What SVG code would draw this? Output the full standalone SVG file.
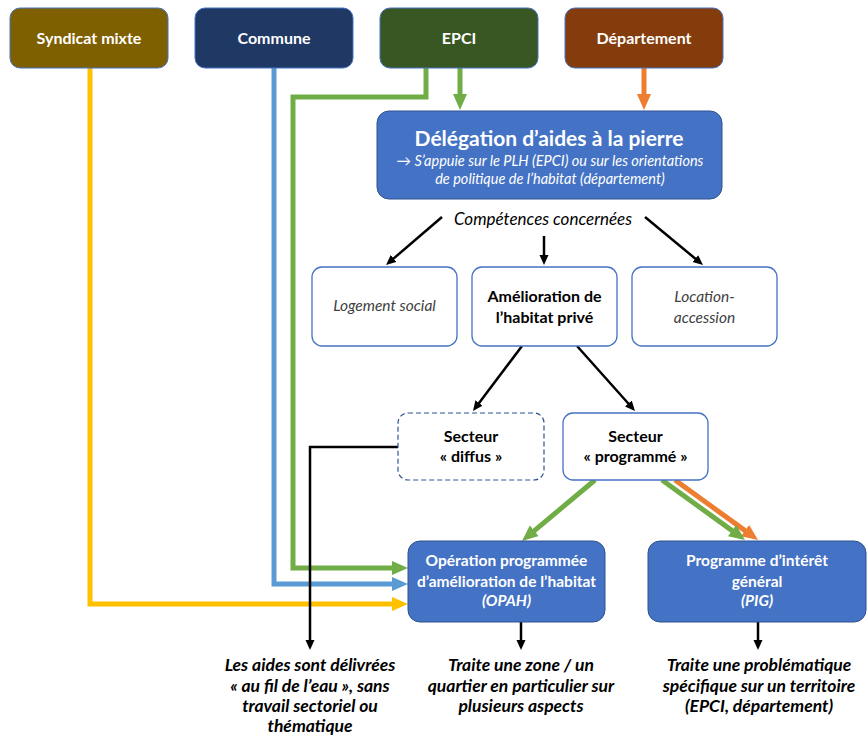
<svg xmlns="http://www.w3.org/2000/svg" width="868" height="737" viewBox="0 0 868 737">
<style>
text{font-family:Lato,"Open Sans","Liberation Sans",sans-serif;text-anchor:middle}
.top{fill:#fff;font-weight:bold;font-size:16px}
.topbox{stroke:#4472C4;stroke-width:1}
.blue{fill:#4472C4;stroke:#2F528F;stroke-width:1}
.wbox{fill:#fff;stroke:#4472C4;stroke-width:1.3}
.wt{fill:#fff;font-weight:bold;font-size:15.5px}
.it{font-style:italic;fill:#404040;font-size:15.5px}
.bd{font-weight:bold;fill:#000;font-size:16px}
.bi{font-weight:bold;font-style:italic;fill:#000;font-size:17.5px}
.k{stroke:#000;stroke-width:2.5;fill:none}
.c{stroke-width:5;fill:none}
</style>
<defs>
<marker id="ak" markerUnits="userSpaceOnUse" markerWidth="10" markerHeight="10" refX="4" refY="4.5" orient="auto"><path d="M0,0L10,4.5L0,9z" fill="#000"/></marker>
<marker id="ag" markerUnits="userSpaceOnUse" markerWidth="16" markerHeight="14" refX="6" refY="7" orient="auto"><path d="M0,0L16,7L0,14z" fill="#70AD47"/></marker>
<marker id="ao" markerUnits="userSpaceOnUse" markerWidth="16" markerHeight="14" refX="6" refY="7" orient="auto"><path d="M0,0L16,7L0,14z" fill="#ED7D31"/></marker>
<marker id="ab" markerUnits="userSpaceOnUse" markerWidth="16" markerHeight="14" refX="6" refY="7" orient="auto"><path d="M0,0L16,7L0,14z" fill="#5B9BD5"/></marker>
<marker id="ay" markerUnits="userSpaceOnUse" markerWidth="16" markerHeight="14" refX="6" refY="7" orient="auto"><path d="M0,0L16,7L0,14z" fill="#FFC000"/></marker>
</defs>

<g id="connectors">
<path class="c" d="M90,68V604H398" stroke="#FFC000" marker-end="url(#ay)"/>
<path class="c" d="M274,68V584H398" stroke="#5B9BD5" marker-end="url(#ab)"/>
<path class="c" d="M426,68V97H293V568H398" stroke="#70AD47" marker-end="url(#ag)"/>
<path class="c" d="M460,68V100" stroke="#70AD47" marker-end="url(#ag)"/>
<path class="c" d="M644,68V100" stroke="#ED7D31" marker-end="url(#ao)"/>
<path class="k" d="M442,217L390.6,261.1" marker-end="url(#ak)"/>
<path class="k" d="M544,236V259" marker-end="url(#ak)"/>
<path class="k" d="M645,217L698.4,261.2" marker-end="url(#ak)"/>
<path class="k" d="M522,346L476.6,406.2" marker-end="url(#ak)"/>
<path class="k" d="M577,346L631,406.5" marker-end="url(#ak)"/>
<path class="k" d="M398,447H310V644" marker-end="url(#ak)"/>
<path class="k" d="M521,622V644" marker-end="url(#ak)"/>
<path class="k" d="M758,622V644" marker-end="url(#ak)"/>
<path class="c" d="M595,480L529.7,534.6" stroke="#70AD47" marker-end="url(#ag)"/>
<path class="c" d="M675,480L749.9,534.1" stroke="#ED7D31" marker-end="url(#ao)"/>
<path class="c" d="M662,480L736.9,534.1" stroke="#70AD47" marker-end="url(#ag)"/>
</g>

<g id="syndicat"><rect class="topbox" x="10" y="8" width="158" height="60" rx="10" fill="#7F6000"/><text class="top" x="89" y="44">Syndicat mixte</text></g>
<g id="commune"><rect class="topbox" x="195" y="8" width="158" height="60" rx="10" fill="#203864"/><text class="top" x="274" y="44">Commune</text></g>
<g id="epci"><rect class="topbox" x="380" y="8" width="158" height="60" rx="10" fill="#385723"/><text class="top" x="459" y="44">EPCI</text></g>
<g id="departement"><rect class="topbox" x="565" y="8" width="158" height="60" rx="10" fill="#843C0C"/><text class="top" x="644" y="44">Département</text></g>

<g id="delegation"><rect class="blue" x="377" y="111" width="345" height="88" rx="12"/>
<text x="549" y="146" fill="#fff" font-weight="bold" font-size="21">Délégation d’aides à la pierre</text>
<text x="550" y="166" fill="#fff" font-style="italic" font-size="14.5">→ S’appuie sur le PLH (EPCI) ou sur les orientations</text>
<text x="550" y="184" fill="#fff" font-style="italic" font-size="14.5">de politique de l’habitat (département)</text></g>

<g id="competences"><text x="543" y="225" font-style="italic" font-size="17" fill="#000">Compétences concernées</text></g>

<g id="logement"><rect class="wbox" x="312" y="267" width="145" height="79" rx="10"/><text class="it" x="384.5" y="311">Logement social</text></g>
<g id="amelioration"><rect class="wbox" x="472" y="267" width="145" height="79" rx="10"/><text class="bd" x="544.5" y="302">Amélioration de</text><text class="bd" x="544.5" y="323">l’habitat privé</text></g>
<g id="location"><rect class="wbox" x="632" y="267" width="145" height="79" rx="10"/><text class="it" x="704.5" y="302">Location-</text><text class="it" x="704.5" y="323">accession</text></g>

<g id="diffus"><rect x="398" y="413" width="146" height="67" rx="10" fill="#fff" stroke="#2F528F" stroke-width="1.2" stroke-dasharray="5,3"/><text class="bd" x="471" y="442">Secteur</text><text class="bd" x="471" y="462">« diffus »</text></g>
<g id="programme"><rect class="wbox" x="563" y="413" width="145" height="67" rx="10"/><text class="bd" x="635.5" y="442">Secteur</text><text class="bd" x="635.5" y="462" font-size="16.5">« programmé »</text></g>

<g id="opah"><rect class="blue" x="408" y="541" width="197" height="81" rx="12"/><text class="wt" x="506.5" y="566">Opération programmée</text><text class="wt" x="506.5" y="587" font-size="15">d’amélioration de l’habitat</text><text class="wt" x="506.5" y="606" font-style="italic" fill="#DAE3F3">(OPAH)</text></g>
<g id="pig"><rect class="blue" x="648" y="541" width="218" height="81" rx="12"/><text class="wt" x="757" y="566" font-size="16.5">Programme d’intérêt</text><text class="wt" x="757" y="587" font-size="16.5">général</text><text class="wt" x="757" y="606" font-style="italic" fill="#DAE3F3" font-size="16.5">(PIG)</text></g>

<g id="txt-diffus"><text class="bi" x="310" y="671">Les aides sont délivrées</text><text class="bi" x="310" y="692">« au fil de l’eau », sans</text><text class="bi" x="310" y="712">travail sectoriel ou</text><text class="bi" x="310" y="732">thématique</text></g>
<g id="txt-opah"><text class="bi" x="521" y="671">Traite une zone / un</text><text class="bi" x="521" y="692">quartier en particulier sur</text><text class="bi" x="521" y="712">plusieurs aspects</text></g>
<g id="txt-pig"><text class="bi" x="759" y="671">Traite une problématique</text><text class="bi" x="759" y="692">spécifique sur un territoire</text><text class="bi" x="759" y="712">(EPCI, département)</text></g>
</svg>
